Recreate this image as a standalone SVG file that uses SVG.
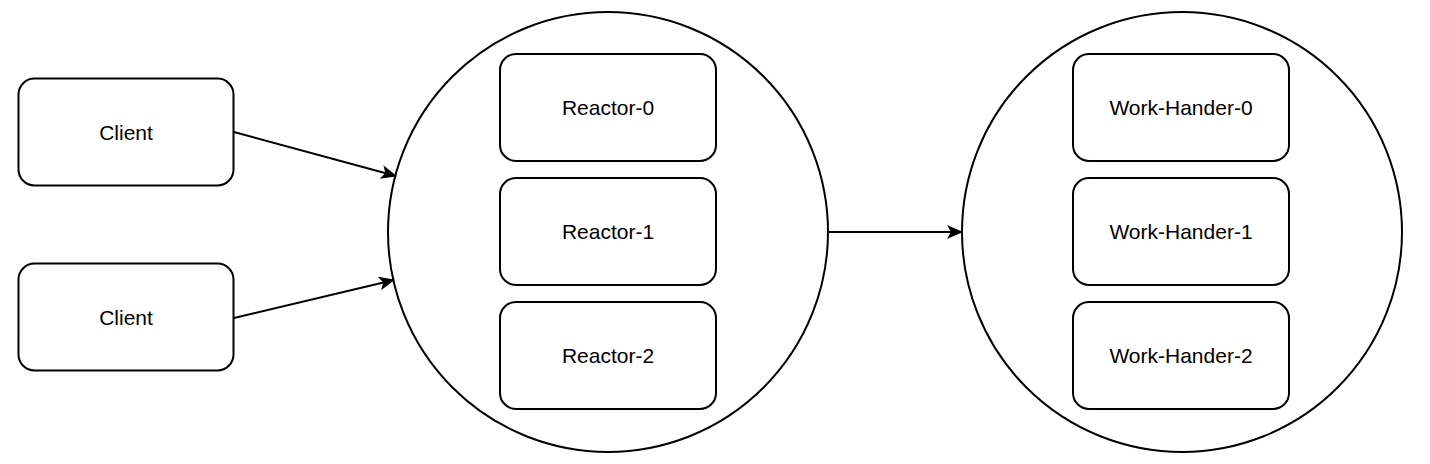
<svg xmlns="http://www.w3.org/2000/svg" width="1430" height="464" viewBox="0 0 1430 464">
<style>
.box{fill:#fff;stroke:#000;stroke-width:2}
.circ{fill:#fff;stroke:#000;stroke-width:2}
.lbl{font-family:"Liberation Sans",Arial,sans-serif;font-size:21px;fill:#000;text-anchor:middle}
.edge{stroke:#000;stroke-width:2;fill:none;marker-end:url(#arr)}
</style>
<defs>
<marker id="arr" viewBox="0 0 16 14" refX="15" refY="7" markerWidth="16" markerHeight="14" markerUnits="userSpaceOnUse" orient="auto">
<path d="M0,0 L16,7 L0,14 L4,7 Z" fill="#000"/>
</marker>
</defs>
<rect width="1430" height="464" fill="#fff"/>
<g id="client-0"><rect class="box" x="18.5" y="78.5" width="215" height="107" rx="16"/><text class="lbl" x="126" y="140">Client</text></g>
<g id="client-1"><rect class="box" x="18.5" y="263.5" width="215" height="107" rx="16"/><text class="lbl" x="126" y="325">Client</text></g>
<g id="reactor-pool"><circle class="circ" cx="608" cy="232" r="220"/></g>
<g id="reactor-0"><rect class="box" x="500" y="54" width="216" height="107" rx="16"/><text class="lbl" x="608" y="115">Reactor-0</text></g>
<g id="reactor-1"><rect class="box" x="500" y="178" width="216" height="107" rx="16"/><text class="lbl" x="608" y="239">Reactor-1</text></g>
<g id="reactor-2"><rect class="box" x="500" y="302" width="216" height="107" rx="16"/><text class="lbl" x="608" y="363">Reactor-2</text></g>
<g id="worker-pool"><circle class="circ" cx="1182" cy="232" r="220"/></g>
<g id="work-0"><rect class="box" x="1073" y="54" width="216" height="107" rx="16"/><text class="lbl" x="1181" y="115">Work-Hander-0</text></g>
<g id="work-1"><rect class="box" x="1073" y="178" width="216" height="107" rx="16"/><text class="lbl" x="1181" y="239">Work-Hander-1</text></g>
<g id="work-2"><rect class="box" x="1073" y="302" width="216" height="107" rx="16"/><text class="lbl" x="1181" y="363">Work-Hander-2</text></g>
<g id="connectors">
<path class="edge" d="M234,132 L396,176"/>
<path class="edge" d="M234,318 L394,280"/>
<path class="edge" d="M829,232 L962,232"/>
</g>
</svg>
